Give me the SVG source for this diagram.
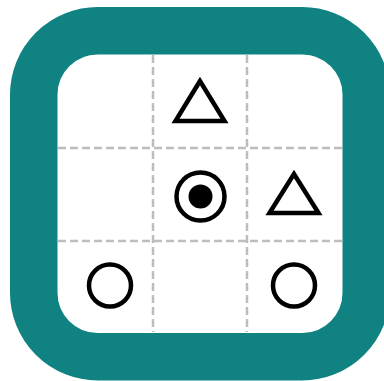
<svg xmlns="http://www.w3.org/2000/svg" width="384" height="381" viewBox="0 0 384 381">
<style>
.grid{stroke:#bdbdbd;stroke-width:2.5;stroke-dasharray:8 4;fill:none}
.sym{fill:none;stroke:#000;stroke-width:4.5}
</style>
<rect width="384" height="381" fill="#fff"/>
<g id="frame">
<rect x="33.75" y="30.75" width="332.5" height="326" rx="64" ry="64" fill="#fff" stroke="#108282" stroke-width="47.5"/>
</g>
<g id="grid">
<line class="grid" x1="153" y1="55" x2="153" y2="332"/>
<line class="grid" x1="247" y1="55" x2="247" y2="332"/>
<line class="grid" x1="58" y1="148" x2="342" y2="148"/>
<line class="grid" x1="58" y1="241" x2="342" y2="241"/>
</g>
<g id="triangle1"><polygon class="sym" points="200,81 175.5,121 224.5,121"/></g>
<g id="target"><circle class="sym" cx="200.5" cy="196.5" r="24"/><circle cx="200.5" cy="196.5" r="12" fill="#000"/></g>
<g id="triangle2"><polygon class="sym" points="294,174 269.5,213 318.5,213"/></g>
<g id="circle1"><circle class="sym" cx="110" cy="285.5" r="21"/></g>
<g id="circle2"><circle class="sym" cx="294" cy="285.5" r="21"/></g>
</svg>
